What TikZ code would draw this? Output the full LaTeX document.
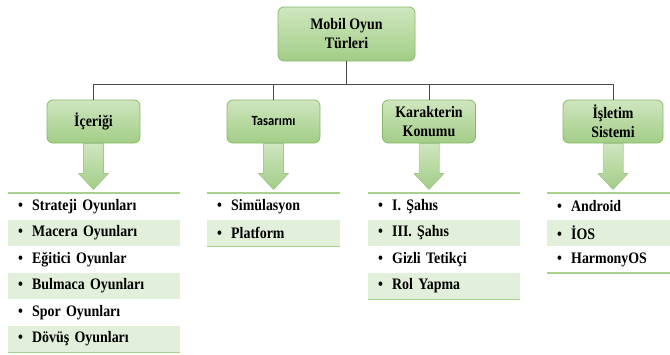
\documentclass[tikz,border=0pt]{standalone}
\usepackage{fontspec}
\setmainfont{Liberation Serif}[FakeStretch=0.87]
\newfontfamily\calfont{Carlito}[FakeStretch=0.9]
\usetikzlibrary{positioning, calc}
\definecolor{gtop}{HTML}{CFE6BF}
\definecolor{gbot}{HTML}{A2CD86}
\definecolor{gline}{HTML}{86BA68}
\definecolor{grow}{HTML}{E2EFDA}
\definecolor{gsep}{HTML}{A9D18E}
\definecolor{cgrey}{HTML}{4A4A4A}
\newcommand\itm[1]{\makebox[14pt][l]{\textbullet}#1}
\tikzset{
  every picture/.style={font=\bfseries\fontsize{16}{19}\selectfont},
  cat/.style={draw=gline, top color=gtop, bottom color=gbot, rounded corners=6pt, align=center, minimum width=93pt, minimum height=43pt, inner sep=2pt, line width=0.8pt},
  item/.style={anchor=north west, text width=#1, minimum height=26.5pt, inner xsep=10pt, inner ysep=0pt, align=left},
  row1/.style={},
  row0/.style={fill=grow},
  link/.style={draw=cgrey, line width=0.9pt},
  sep/.style={draw=gsep, line width=1.5pt},
  garrow/.pic={\fill[top color=gtop, bottom color=gbot, draw=gsep, line width=0.5pt] (-10,0) -- (10,0) -- (10,30) -- (15,30) -- (0,46) -- (-15,30) -- (-10,30) -- cycle;},
}
\begin{document}
\begin{tikzpicture}[x=1pt, y=-1pt]
  \useasboundingbox (0,0) rectangle (670,354);
  % top and category boxes
  \node[cat, minimum width=137pt, minimum height=54pt] (root) at (346.5,34) {Mobil Oyun\\Türleri};
  \node[cat] (icerik) at (93.5,121.5) {İçeriği};
  \node[cat] (tasarim) at (273.5,121.5) {\calfont\fontsize{14}{16}\selectfont Tasarımı};
  \node[cat] (karakter) at (429,121.5) {Karakterin\\Konumu};
  \node[cat, minimum width=100pt] (isletim) at (613,121.5) {İşletim\\Sistemi};
  \foreach \n in {icerik, tasarim, karakter, isletim} {
    \draw[link] (root.south) -- ++(0,23) -| (\n.north);
    \pic at (\n.south) {garrow};
  }
  % lists
  \foreach \t [count=\i, evaluate=\i as \m using {int(mod(\i,2))}] in {Strateji Oyunları, Macera Oyunları, Eğitici Oyunlar, Bulmaca Oyunları, Spor Oyunları, Dövüş Oyunları}
    \node[item=152pt, row\m] (ic\i) at (8,{193+(\i-1)*26.5}) {\itm{\t}};
  \foreach \t [count=\i, evaluate=\i as \m using {int(mod(\i,2))}] in {Simülasyon, Platform}
    \node[item=113pt, row\m] (ta\i) at (207,{193+(\i-1)*26.5}) {\itm{\t}};
  \foreach \t [count=\i, evaluate=\i as \m using {int(mod(\i,2))}] in {I. Şahıs, III. Şahıs, Gizli Tetikçi, Rol Yapma}
    \node[item=132pt, row\m] (ka\i) at (368,{193+(\i-1)*26.5}) {\itm{\t}};
  \foreach \t [count=\i, evaluate=\i as \m using {int(mod(\i,2))}] in {Android, İOS, HarmonyOS}
    \node[item=103pt, row\m] (is\i) at (547,{193+(\i-1)*26.5}) {\itm{\t}};
  \foreach \a/\b in {ic1/ic6, ta1/ta2, ka1/ka4, is1/is3} {
    \draw[sep] (\a.north west) -- (\a.north east);
    \draw[sep] (\b.south west) -- (\b.south east);
  }
\end{tikzpicture}
\end{document}
